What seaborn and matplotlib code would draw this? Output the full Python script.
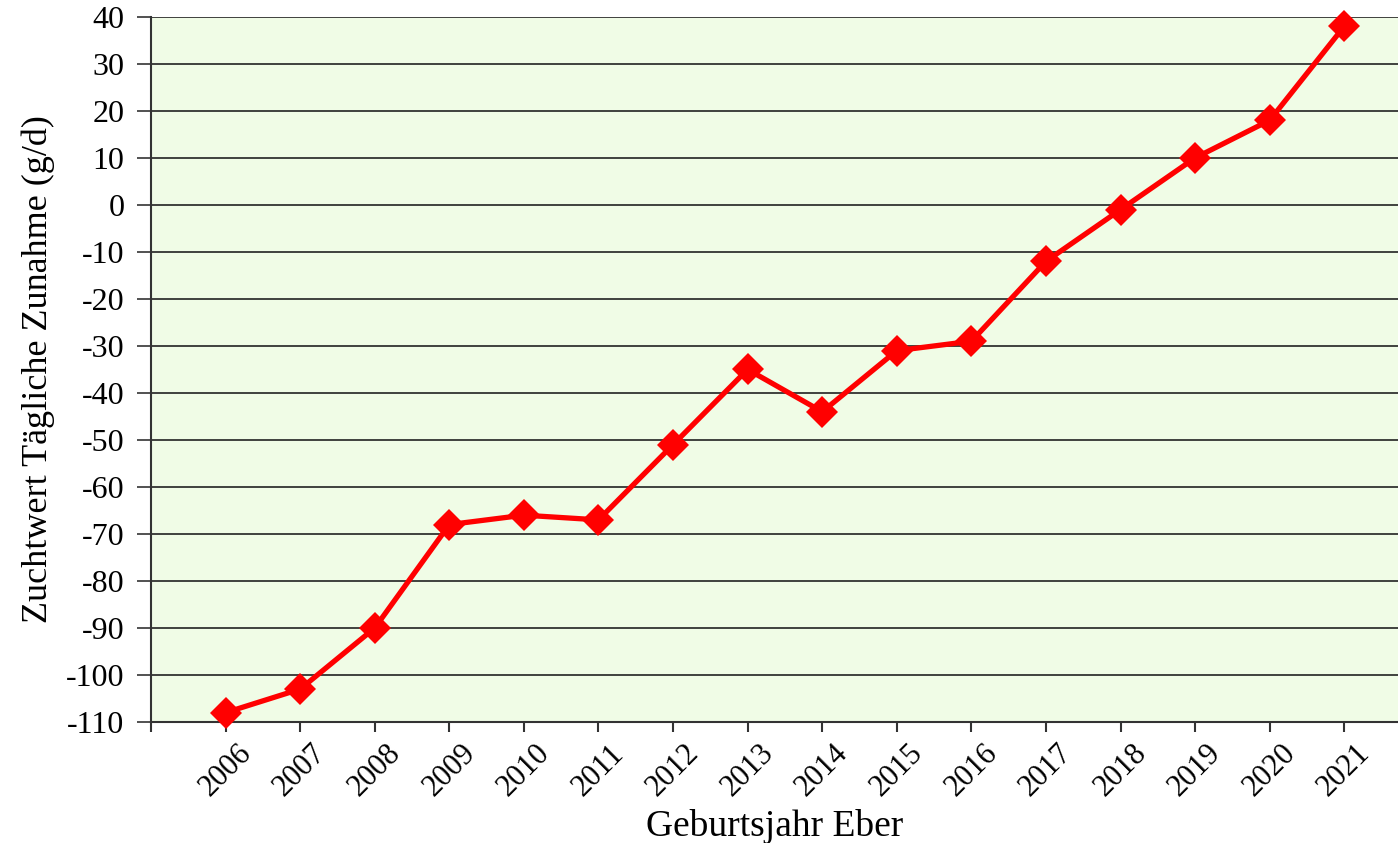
import numpy as np
import pandas as pd
import matplotlib
matplotlib.use("Agg")
import matplotlib.pyplot as plt
import seaborn as sns

# values
years = [2006, 2007, 2008, 2009, 2010, 2011, 2012, 2013,
         2014, 2015, 2016, 2017, 2018, 2019, 2020, 2021]
zuchtwert = [-108, -103, -90, -68, -66, -67, -51, -35,
             -44, -31, -29, -12, -1, 10, 18, 38]
y_ticks = list(range(-110, 41, 10))

sns.set_theme(style="white")
plt.rcParams['font.family'] = ['Liberation Serif', 'DejaVu Serif']
plt.rcParams['text.color'] = 'black'
plt.rcParams['axes.labelcolor'] = 'black'
plt.rcParams['xtick.color'] = 'black'
plt.rcParams['ytick.color'] = 'black'

df = pd.DataFrame({"pos": np.arange(len(years)), "year": years, "value": zuchtwert})

fig = plt.figure(figsize=(13.98, 8.43), dpi=100)
ax = fig.add_axes([0.108, 0.1435, 0.892, 0.8365])
ax.set_facecolor("#F0FCE6")

for y in y_ticks:
    ax.axhline(y, color="#222222", linewidth=1.2, zorder=1)

sns.lineplot(data=df, x="pos", y="value", ax=ax, color="#FF0000",
             linewidth=3.8, marker="D", markersize=16, markeredgewidth=0,
             zorder=3, clip_on=False)

ax.set_xlim(-1, 15.72)
ax.set_ylim(-110, 40)
ax.set_yticks(y_ticks)
ax.set_yticklabels([str(v) for v in y_ticks], fontsize=23)
ax.set_xticks(range(-1, len(years)))
ax.set_xticklabels([""] + [str(y) for y in years], fontsize=22,
                   rotation=45, ha="center")
ax.tick_params(axis="x", bottom=True, direction="out", length=7, width=1.5,
               color="#333333", pad=5)
ax.tick_params(axis="y", left=True, direction="out", length=10, width=1.2,
               color="#333333", pad=9)

for side in ["top", "right"]:
    ax.spines[side].set_visible(False)
ax.spines["left"].set_color("#333333")
ax.spines["left"].set_linewidth(1.5)
ax.spines["bottom"].set_color("#333333")
ax.spines["bottom"].set_linewidth(1.5)

ax.set_xlabel("Geburtsjahr Eber", fontsize=27, labelpad=5)
ax.set_ylabel("Zuchtwert Tägliche Zunahme (g/d)", fontsize=26, labelpad=8)

fig.savefig("out.png", dpi=100)
